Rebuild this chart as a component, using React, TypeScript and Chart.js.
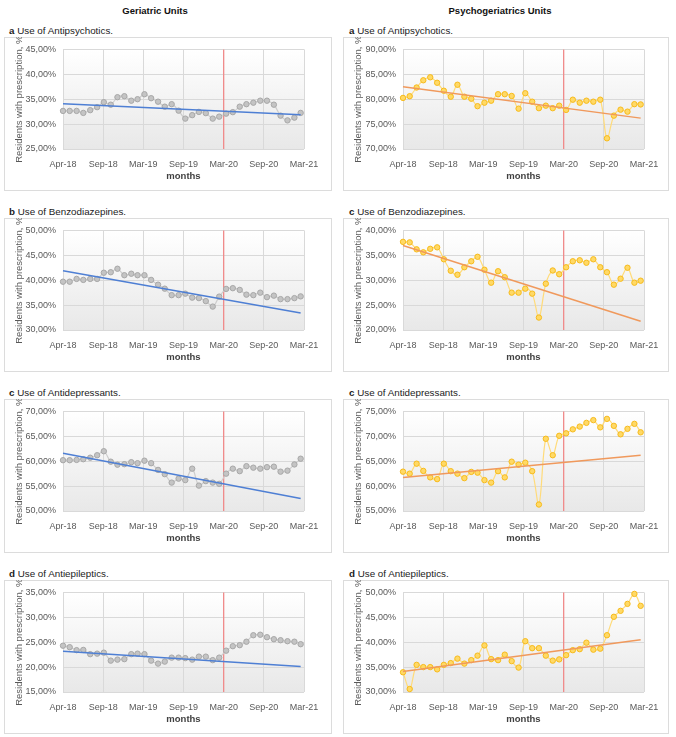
import React, { useEffect, useRef } from "react";
import { Chart, registerables } from "chart.js";

Chart.register(...registerables);

// ---------- categories ----------
const months = [
  "2018-04", "2018-05", "2018-06", "2018-07", "2018-08", "2018-09",
  "2018-10", "2018-11", "2018-12", "2019-01", "2019-02", "2019-03",
  "2019-04", "2019-05", "2019-06", "2019-07", "2019-08", "2019-09",
  "2019-10", "2019-11", "2019-12", "2020-01", "2020-02", "2020-03",
  "2020-04", "2020-05", "2020-06", "2020-07", "2020-08", "2020-09",
  "2020-10", "2020-11", "2020-12", "2021-01", "2021-02", "2021-03",
];
const tickLabels = ["Apr-18", "Sep-18", "Mar-19", "Sep-19", "Mar-20", "Sep-20", "Mar-21"];
const tickStepDays = 180;
const eventTickLabel = "Mar-20";

// ---------- Geriatric units (%) ----------
const gerAntipsychotics = [
  32.65, 32.65, 32.65, 32.25, 32.8, 33.4, 34.4, 33.9, 35.4, 35.6, 34.7, 35.0,
  36.0, 35.2, 34.5, 33.5, 34.0, 32.7, 31.1, 31.8, 32.45, 32.2, 31.1, 31.5,
  32.1, 32.4, 33.5, 34.0, 34.3, 34.7, 34.7, 33.9, 31.7, 30.75, 31.3, 32.25,
];
const gerAntipsychoticsTrend = [34.1, 31.9];

const gerBenzodiazepines = [
  39.7, 39.7, 40.26, 40.06, 40.26, 40.26, 41.5, 41.6, 42.3, 41.0, 41.3, 41.0,
  41.0, 40.06, 39.1, 38.3, 37.0, 37.0, 37.3, 36.5, 36.4, 35.8, 34.7, 36.7,
  38.25, 38.4, 38.05, 37.1, 37.0, 37.5, 36.6, 36.9, 36.2, 36.2, 36.4, 36.75,
];
const gerBenzodiazepinesTrend = [41.9, 33.4];

const gerAntidepressants = [
  60.2, 60.2, 60.26, 60.4, 60.7, 61.2, 62.0, 59.9, 59.3, 59.4, 59.8, 59.6,
  60.1, 59.6, 58.25, 57.4, 55.7, 56.5, 56.2, 58.5, 55.1, 56.0, 55.7, 55.45,
  57.5, 58.5, 58.0, 59.0, 58.7, 58.5, 58.8, 58.9, 57.9, 58.1, 59.35, 60.5,
];
const gerAntidepressantsTrend = [61.6, 52.5];

const gerAntiepileptics = [
  24.3, 24.0, 23.4, 23.45, 22.6, 22.7, 22.9, 21.3, 21.5, 21.6, 22.6, 22.7,
  22.6, 21.3, 20.7, 21.1, 21.9, 21.9, 21.8, 21.5, 22.1, 22.1, 21.4, 21.9,
  23.3, 24.2, 24.4, 25.1, 26.4, 26.5, 26.0, 25.6, 25.4, 25.2, 25.1, 24.6,
];
const gerAntiepilepticsTrend = [23.2, 20.1];

// ---------- Psychogeriatrics units (%) ----------
const psyAntipsychotics = [
  80.26, 80.6, 82.35, 83.8, 84.4, 83.3, 81.7, 80.5, 82.9, 80.5, 80.1, 78.6,
  79.3, 79.7, 81.0, 81.0, 80.65, 78.1, 81.2, 79.5, 78.2, 78.7, 78.2, 78.7,
  77.85, 79.9, 79.3, 79.7, 79.5, 79.9, 72.15, 76.7, 77.9, 77.5, 79.0, 78.95,
];
const psyAntipsychoticsTrend = [82.5, 76.2];

const psyBenzodiazepines = [
  37.7, 37.6, 36.2, 35.6, 36.3, 36.6, 34.2, 31.9, 31.1, 32.6, 33.8, 34.7,
  32.1, 29.5, 31.8, 30.6, 27.5, 27.5, 28.3, 27.3, 22.5, 29.3, 31.95, 31.2,
  32.6, 33.8, 34.0, 33.5, 34.2, 32.6, 31.6, 29.1, 30.3, 32.5, 29.5, 29.9,
];
const psyBenzodiazepinesTrend = [36.95, 21.75];

const psyAntidepressants = [
  62.9, 62.5, 64.5, 63.05, 61.75, 61.4, 64.5, 63.0, 62.5, 61.6, 62.85, 62.7,
  61.2, 60.7, 63.0, 61.75, 64.9, 64.3, 64.7, 63.0, 56.3, 69.5, 66.2, 70.1,
  70.6, 71.4, 71.95, 72.7, 73.25, 71.8, 73.5, 72.1, 70.4, 71.5, 72.5, 70.8,
];
const psyAntidepressantsTrend = [61.75, 66.2];

const psyAntiepileptics = [
  33.96, 30.6, 35.45, 35.0, 35.0, 34.55, 35.45, 35.8, 36.7, 35.7, 36.4, 37.3,
  39.35, 36.6, 36.4, 37.5, 36.2, 34.9, 40.2, 38.8, 38.8, 37.3, 36.3, 36.55,
  37.4, 38.4, 38.6, 39.9, 38.5, 38.7, 41.4, 45.1, 46.3, 47.7, 49.7, 47.3,
];
const psyAntiepilepticsTrend = [34.1, 40.5];

// ---------- headings ----------
const columnTitles = ["Geriatric Units", "Psychogeriatrics Units"];
const yAxisTitle = "Residents with prescription, %";
const xAxisTitle = "months";

// ---------- derived x positions (days since first month) ----------
const startUTC = Date.UTC(2018, 3, 1);
const monthDays = months.map((m) => {
  const [y, mo] = m.split("-").map(Number);
  return (Date.UTC(y, mo - 1, 1) - startUTC) / 86400000;
});
const tickDays = tickLabels.map((_, i) => i * tickStepDays);
const eventDay = tickDays[tickLabels.indexOf(eventTickLabel)];

type Panel = {
  col: number;
  row: number;
  letter: string;
  name: string;
  values: number[];
  trend: number[];
  yMin: number;
  yMax: number;
};

const panels: Panel[] = [
  { col: 0, row: 0, letter: "a", name: "Use of Antipsychotics.", values: gerAntipsychotics, trend: gerAntipsychoticsTrend, yMin: 25, yMax: 45 },
  { col: 0, row: 1, letter: "b", name: "Use of Benzodiazepines.", values: gerBenzodiazepines, trend: gerBenzodiazepinesTrend, yMin: 30, yMax: 50 },
  { col: 0, row: 2, letter: "c", name: "Use of Antidepressants.", values: gerAntidepressants, trend: gerAntidepressantsTrend, yMin: 50, yMax: 70 },
  { col: 0, row: 3, letter: "d", name: "Use of Antiepileptics.", values: gerAntiepileptics, trend: gerAntiepilepticsTrend, yMin: 15, yMax: 35 },
  { col: 1, row: 0, letter: "a", name: "Use of Antipsychotics.", values: psyAntipsychotics, trend: psyAntipsychoticsTrend, yMin: 70, yMax: 90 },
  { col: 1, row: 1, letter: "c", name: "Use of Benzodiazepines.", values: psyBenzodiazepines, trend: psyBenzodiazepinesTrend, yMin: 20, yMax: 40 },
  { col: 1, row: 2, letter: "c", name: "Use of Antidepressants.", values: psyAntidepressants, trend: psyAntidepressantsTrend, yMin: 55, yMax: 75 },
  { col: 1, row: 3, letter: "d", name: "Use of Antiepileptics.", values: psyAntiepileptics, trend: psyAntiepilepticsTrend, yMin: 30, yMax: 50 },
];

// ---------- layout / style ----------
const NARROW = "'Liberation Sans Narrow', 'Arial Narrow', 'Liberation Sans', Arial, sans-serif";
const SANS = "'Liberation Sans', Arial, sans-serif";
const colLeft = [4, 343];
const colWidth = [328, 326];
const colYAxisWidth = [59, 60];
const colPadRight = [28, 25];
const rowTop = [37, 218, 399, 580];
const boxHeight = 154;

const styles = [
  {
    line: "#cdcdcd",
    pointFill: "#c4c4c4",
    pointBorder: "#a8a8a8",
    trend: "#4e7fd4",
  },
  {
    line: "#ffdb7a",
    pointFill: "#ffd966",
    pointBorder: "#f7bb1c",
    trend: "#f0995c",
  },
];

const bgPlugin = {
  id: "bgPlugin",
  beforeDraw(chart: any) {
    const { ctx, chartArea: a, width, height } = chart;
    ctx.save();
    ctx.fillStyle = "#ffffff";
    ctx.fillRect(0, 0, width, height);
    const g = ctx.createLinearGradient(0, a.top, 0, a.bottom);
    g.addColorStop(0, "#ffffff");
    g.addColorStop(1, "#e8e8e8");
    ctx.fillStyle = g;
    ctx.fillRect(a.left, a.top, a.right - a.left, a.bottom - a.top);
    ctx.strokeStyle = "#dcdcdc";
    ctx.lineWidth = 1;
    ctx.strokeRect(0.5, 0.5, width - 1, height - 1);
    ctx.restore();
  },
  beforeDatasetsDraw(chart: any) {
    const { ctx, chartArea: a } = chart;
    const x = chart.scales.x.getPixelForValue(eventDay);
    ctx.save();
    ctx.strokeStyle = "#f08a8a";
    ctx.lineWidth = 1.3;
    ctx.beginPath();
    ctx.moveTo(x, a.top);
    ctx.lineTo(x, a.bottom);
    ctx.stroke();
    ctx.restore();
  },
};

function PanelChart({ panel }: { panel: Panel }) {
  const ref = useRef<HTMLCanvasElement | null>(null);
  const w = colWidth[panel.col];
  useEffect(() => {
    if (!ref.current) return;
    const st = styles[panel.col];
    const first = monthDays[0];
    const last = monthDays[monthDays.length - 1];
    const chart = new Chart(ref.current, {
      type: "line",
      data: {
        datasets: [
          {
            data: [
              { x: first, y: panel.trend[0] },
              { x: last, y: panel.trend[1] },
            ],
            borderColor: st.trend,
            borderWidth: 1.5,
            pointRadius: 0,
            fill: false,
            order: 0,
            clip: false as any,
          },
          {
            data: panel.values.map((v, i) => ({ x: monthDays[i], y: v })),
            borderColor: st.line,
            borderWidth: 1.2,
            tension: 0.35,
            pointRadius: 2.7,
            pointBackgroundColor: st.pointFill,
            pointBorderColor: st.pointBorder,
            pointBorderWidth: 1,
            fill: false,
            order: 1,
            clip: false as any,
          },
        ],
      },
      options: {
        animation: false,
        responsive: false,
        devicePixelRatio: 1,
        events: [],
        layout: { padding: { top: 10, right: colPadRight[panel.col], left: 0, bottom: 0 } },
        plugins: { legend: { display: false }, tooltip: { enabled: false } },
        scales: {
          x: {
            type: "linear",
            min: 0,
            max: tickDays[tickDays.length - 1],
            afterBuildTicks: (axis: any) => {
              axis.ticks = tickDays.map((v) => ({ value: v }));
            },
            afterFit: (s: any) => {
              s.height = 42;
            },
            ticks: {
              callback: (v: any) => {
                const i = tickDays.indexOf(Number(v));
                return i >= 0 ? tickLabels[i] : "";
              },
              autoSkip: false,
              maxRotation: 0,
              padding: 10,
              color: "#595959",
              font: { family: NARROW, size: 9 },
            },
            grid: { color: "#d9d9d9", lineWidth: 1, drawTicks: false },
            border: { display: false },
            title: {
              display: true,
              text: xAxisTitle,
              color: "#404040",
              font: { family: NARROW, size: 9.5, weight: "bold" },
              padding: { top: 0, bottom: 9 },
            },
          },
          y: {
            min: panel.yMin,
            max: panel.yMax,
            afterFit: (s: any) => {
              s.width = colYAxisWidth[panel.col];
            },
            ticks: {
              stepSize: 5,
              callback: (v: any) => Number(v).toFixed(2).replace(".", ",") + "%",
              padding: 7,
              color: "#595959",
              font: { family: NARROW, size: 9 },
            },
            grid: { color: "#d9d9d9", lineWidth: 1, drawTicks: false },
            border: { display: false },
            title: {
              display: true,
              text: yAxisTitle,
              color: "#595959",
              font: { family: NARROW, size: 9.5 },
              padding: { top: 10, bottom: 0 },
            },
          },
        },
      } as any,
      plugins: [bgPlugin],
    });
    return () => chart.destroy();
  }, [panel]);
  return (
    <canvas
      ref={ref}
      width={w}
      height={boxHeight}
      style={{
        position: "absolute",
        left: colLeft[panel.col],
        top: rowTop[panel.row],
        width: w,
        height: boxHeight,
      }}
    />
  );
}

const titleCenters = [155, 500];
const subtitleLeft = [9, 349];
const subtitleCenterOffset = -6;

export default function App() {
  return (
    <div
      style={{
        position: "absolute",
        left: 0,
        top: 0,
        width: 676,
        height: 737,
        background: "#ffffff",
        overflow: "hidden",
        fontFamily: SANS,
      }}
    >
      {columnTitles.map((t, i) => (
        <div
          key={t}
          style={{
            position: "absolute",
            left: titleCenters[i] - 100,
            width: 200,
            top: 4,
            lineHeight: "14px",
            fontSize: 9.5,
            fontWeight: "bold",
            textAlign: "center",
            color: "#111",
          }}
        >
          {t}
        </div>
      ))}
      {panels.map((p, i) => (
        <div
          key={"s" + i}
          style={{
            position: "absolute",
            left: subtitleLeft[p.col],
            top: rowTop[p.row] + subtitleCenterOffset - 7,
            lineHeight: "14px",
            fontSize: 9.8,
            color: "#222",
            whiteSpace: "nowrap",
          }}
        >
          <b>{p.letter}</b> {p.name}
        </div>
      ))}
      {panels.map((p, i) => (
        <PanelChart key={"c" + i} panel={p} />
      ))}
    </div>
  );
}
